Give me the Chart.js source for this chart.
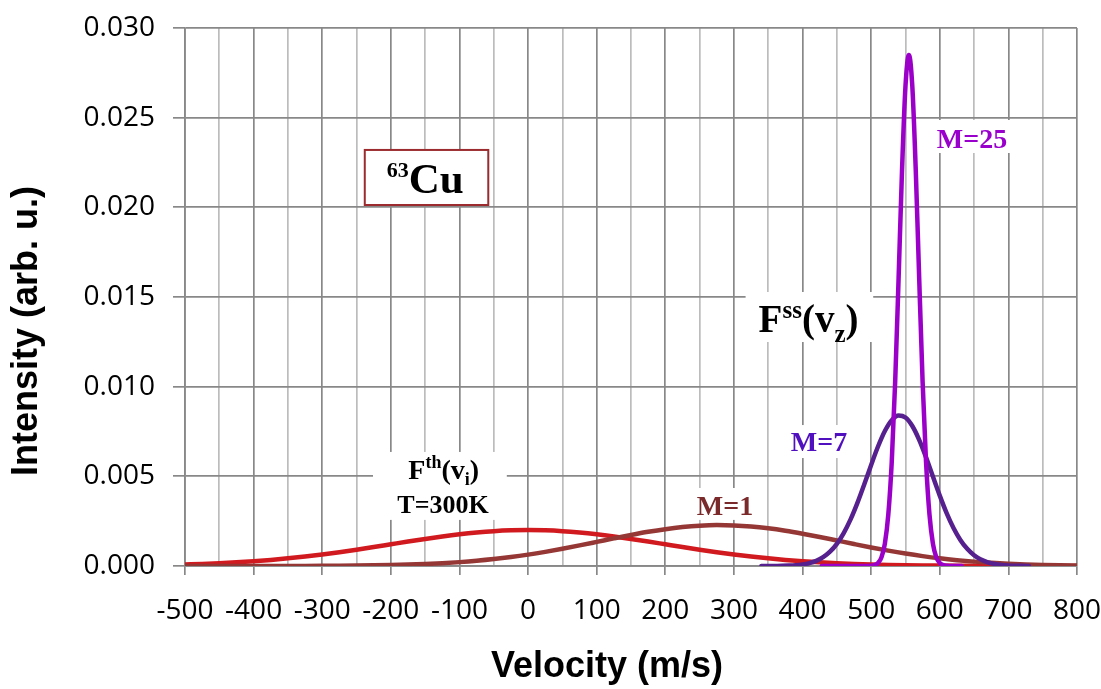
<!DOCTYPE html>
<html><head><meta charset="utf-8">
<script src="https://cdn.jsdelivr.net/npm/chart.js@4.4.1/dist/chart.umd.min.js"></script>
<style>html,body{margin:0;padding:0;background:#fff;}#wrap{width:1101px;height:689px;}</style>
</head><body><div id="wrap"><canvas id="c" width="1101" height="689"></canvas></div>
<script>
// ---- data ----
const thermalV = [-500,-475,-450,-425,-400,-375,-350,-325,-300,-275,-250,-225,-200,-175,-150,-125,-100,-75,-50,-25,0,25,50,75,100,125,150,175,200,225,250,275,300,325,350,375,400,425,450,475,500,525,550,575,600,625,650,675,700,725,750,775,800];
const thermalI = [0.000085,0.000116,0.000155,0.000205,0.000266,0.000340,0.000427,0.000528,0.000644,0.000772,0.000911,0.001058,0.001210,0.001362,0.001509,0.001646,0.001767,0.001867,0.001943,0.001989,0.002005,0.001989,0.001943,0.001867,0.001767,0.001646,0.001509,0.001362,0.001210,0.001058,0.000911,0.000772,0.000644,0.000528,0.000427,0.000340,0.000266,0.000205,0.000155,0.000116,0.000085,0.000062,0.000044,0.000031,0.000021,0.000014,0.0000097,0.0000064,0.0000041,0.0000026,0.0000016,0.000001,0.0000006];
const m1V = [-500,-475,-450,-425,-400,-375,-350,-325,-300,-275,-250,-225,-200,-175,-150,-125,-100,-75,-50,-25,0,25,50,75,100,125,150,175,200,225,250,275,300,325,350,375,400,425,450,475,500,525,550,575,600,625,650,675,700,725,750,775,800];
const m1I = [0,0.0000002,0.0000004,0.0000007,0.0000012,0.0000021,0.0000035,0.0000058,0.0000094,0.0000149,0.0000232,0.0000355,0.000053,0.0000776,0.000111,0.000157,0.000216,0.000291,0.000385,0.000499,0.000634,0.000789,0.000961,0.001148,0.001343,0.001540,0.001730,0.001905,0.002054,0.002170,0.002247,0.002280,0.002265,0.002206,0.002105,0.001968,0.001802,0.001618,0.001422,0.001226,0.001035,0.000856,0.000694,0.000551,0.000428,0.000327,0.000244,0.000178,0.000128,0.0000899,0.0000619,0.0000417,0.0000276];
const m7V = [340,350,360,370,380,390,400,410,420,430,440,450,460,470,480,490,500,510,520,530,540,550,560,570,580,590,600,610,620,630,640,650,660,670,680,690,700,710,720,730];
const m7I = [0.000001,0.000002,0.000005,0.000010,0.000022,0.000045,0.000088,0.000163,0.000289,0.000491,0.000797,0.001237,0.001834,0.002598,0.003519,0.004555,0.005636,0.006662,0.007528,0.008130,0.008392,0.008279,0.007806,0.007034,0.006058,0.004986,0.003923,0.002949,0.002119,0.001456,0.000955,0.000600,0.000359,0.000206,0.000113,0.000059,0.000030,0.000014,0.000007,0.000003];
const m25V = [428,450,475,490,500,505,510,515,520,525,530,535,540,545,550,555,560,565,570,575,580,585,590,595,600,605,610,620,632];
const m25I = [0,0,0,0.0000006,0.0000127,0.0000484,0.000163,0.000481,0.001252,0.00287,0.00579,0.01027,0.01605,0.02208,0.02674,0.0285,0.02674,0.02208,0.01605,0.01027,0.00579,0.00287,0.001252,0.000481,0.000163,0.0000484,0.0000127,0.0000006,0];
const xRange = [-500, 800];
const yRange = [0, 0.030];
const xStep = 50, xLabelStep = 100, yStep = 0.005;
const seriesNames = ['M=25','M=7','Fth(vi) T=300K','M=1'];
const xTitle = 'Velocity (m/s)', yTitle = 'Intensity (arb. u.)';

const toPts = (xs, ys) => xs.map((v, i) => ({x: v, y: ys[i]}));
const majorCol = '#888888', minorCol = '#bcbcbc';

const annot = {
  id: 'annot',
  beforeDatasetsDraw(chart) {
    const {ctx, scales: {x, y}} = chart;
    const X = v => x.getPixelForValue(v), Y = v => y.getPixelForValue(v);
    ctx.save();
    ctx.fillStyle = '#fff';
    const boxes = [
      [-226, -31, 0.00636, 0.00257],
      [317, 503, 0.01528, 0.01249],
      [586, 710, 0.02487, 0.02303],
      [374, 476, 0.00786, 0.00602],
      [236, 338, 0.00435, 0.00257]
    ];
    boxes.forEach(b => ctx.fillRect(X(b[0]), Y(b[2]), X(b[1]) - X(b[0]), Y(b[3]) - Y(b[2])));
    // 63Cu box
    const cx0 = X(-238), cx1 = X(-58), cy0 = Y(0.0232), cy1 = Y(0.02013);
    ctx.fillRect(cx0, cy0, cx1 - cx0, cy1 - cy0);
    ctx.strokeStyle = '#9b2b2e'; ctx.lineWidth = 2;
    ctx.strokeRect(cx0, cy0, cx1 - cx0, cy1 - cy0);
    ctx.restore();
  },
  afterDatasetsDraw(chart) {
    const {ctx, scales: {x, y}} = chart;
    const X = v => x.getPixelForValue(v), Y = v => y.getPixelForValue(v);
    const rich = (segs, px, py, align, color) => {
      ctx.fillStyle = color; ctx.textBaseline = 'alphabetic'; ctx.textAlign = 'left';
      let tot = 0;
      segs.forEach(s => { ctx.font = 'bold ' + s[1] + 'px "Liberation Serif"'; s.w = ctx.measureText(s[0]).width; tot += s.w; });
      let cx = align === 'center' ? px - tot / 2 : px;
      segs.forEach(s => { ctx.font = 'bold ' + s[1] + 'px "Liberation Serif"'; ctx.fillText(s[0], cx, py + s[2]); cx += s.w; });
    };
    ctx.save();
    rich([['63', 22, -16], ['Cu', 43, 0]], X(-150), Y(0.0208), 'center', '#000');
    rich([['F', 28, 0], ['th', 18, -11], ['(v', 28, 0], ['i', 18, 6], [')', 28, 0]], X(-123), Y(0.00485), 'center', '#000');
    rich([['T=300K', 26, 0]], X(-124), Y(0.00297), 'center', '#000');
    rich([['F', 39, 0], ['ss', 25, -14], ['(v', 39, 0], ['z', 25, 10], [')', 39, 0]], X(336), Y(0.01307), 'left', '#000');
    rich([['M=25', 28, 0]], X(647), Y(0.02333), 'center', '#9900cc');
    rich([['M=7', 28, 0]], X(424), Y(0.00643), 'center', '#5010c0');
    rich([['M=1', 28, 0]], X(287), Y(0.00284), 'center', '#7a2a2a');
    // axis titles
    ctx.font = 'bold 36px "Liberation Sans"';
    ctx.fillStyle = '#000'; ctx.textAlign = 'center'; ctx.textBaseline = 'middle';
    ctx.fillText(xTitle, X(115), x.bottom - 22);
    ctx.translate(27, (Y(yRange[0]) + Y(yRange[1])) / 2 + 34);
    ctx.rotate(-Math.PI / 2);
    ctx.fillText(yTitle, 0, 0);
    ctx.restore();
  }
};

const lineDs = (label, xs, ys, color, w) => ({
  label, data: toPts(xs, ys), showLine: true, borderColor: color, backgroundColor: color,
  borderWidth: w, pointRadius: 0, cubicInterpolationMode: 'monotone', borderCapStyle: 'round', fill: false
});

new Chart(document.getElementById('c'), {
  type: 'scatter',
  data: {
    datasets: [
      lineDs(seriesNames[0], m25V, m25I, '#9b00c8', 4.5),
      lineDs(seriesNames[1], m7V, m7I, '#56208e', 4.5),
      lineDs(seriesNames[3], m1V, m1I, '#953735', 4.5),
      lineDs(seriesNames[2], thermalV, thermalI, '#d01a1f', 4.5)
    ]
  },
  options: {
    responsive: false, animation: false, devicePixelRatio: 1,
    layout: {padding: {top: 28, right: 24, left: 0, bottom: 0}},
    plugins: {legend: {display: false}, tooltip: {enabled: false}},
    scales: {
      x: {
        type: 'linear', min: xRange[0], max: xRange[1],
        afterFit: s => { s.height = 123; s.paddingLeft = 0; s.paddingRight = 0; },
        ticks: {
          stepSize: xStep, autoSkip: false, maxRotation: 0, padding: 19, color: '#000',
          font: {family: '"Open Sans"', size: 28},
          callback: v => (Math.round(v) % xLabelStep === 0 ? String(v) : '')
        },
        grid: {
          color: c => (c.tick && Math.round(c.tick.value) % xLabelStep !== 0 ? minorCol : majorCol),
          tickColor: c => (c.tick && Math.round(c.tick.value) % xLabelStep !== 0 ? 'rgba(0,0,0,0)' : majorCol),
          lineWidth: 1.7, tickLength: 9
        },
        border: {color: majorCol, width: 1.7},
        title: {display: false, text: xTitle}
      },
      y: {
        min: yRange[0], max: yRange[1],
        afterFit: s => { s.width = 185; s.paddingTop = 0; s.paddingBottom = 0; },
        ticks: {stepSize: yStep, padding: 18, color: '#000', font: {family: '"Open Sans"', size: 28},
          callback: v => v.toFixed(3)},
        grid: {color: majorCol, lineWidth: 1.7, tickLength: 12},
        border: {color: majorCol, width: 1.7},
        title: {display: false, text: yTitle}
      }
    }
  },
  plugins: [annot]
});
</script></body></html>
